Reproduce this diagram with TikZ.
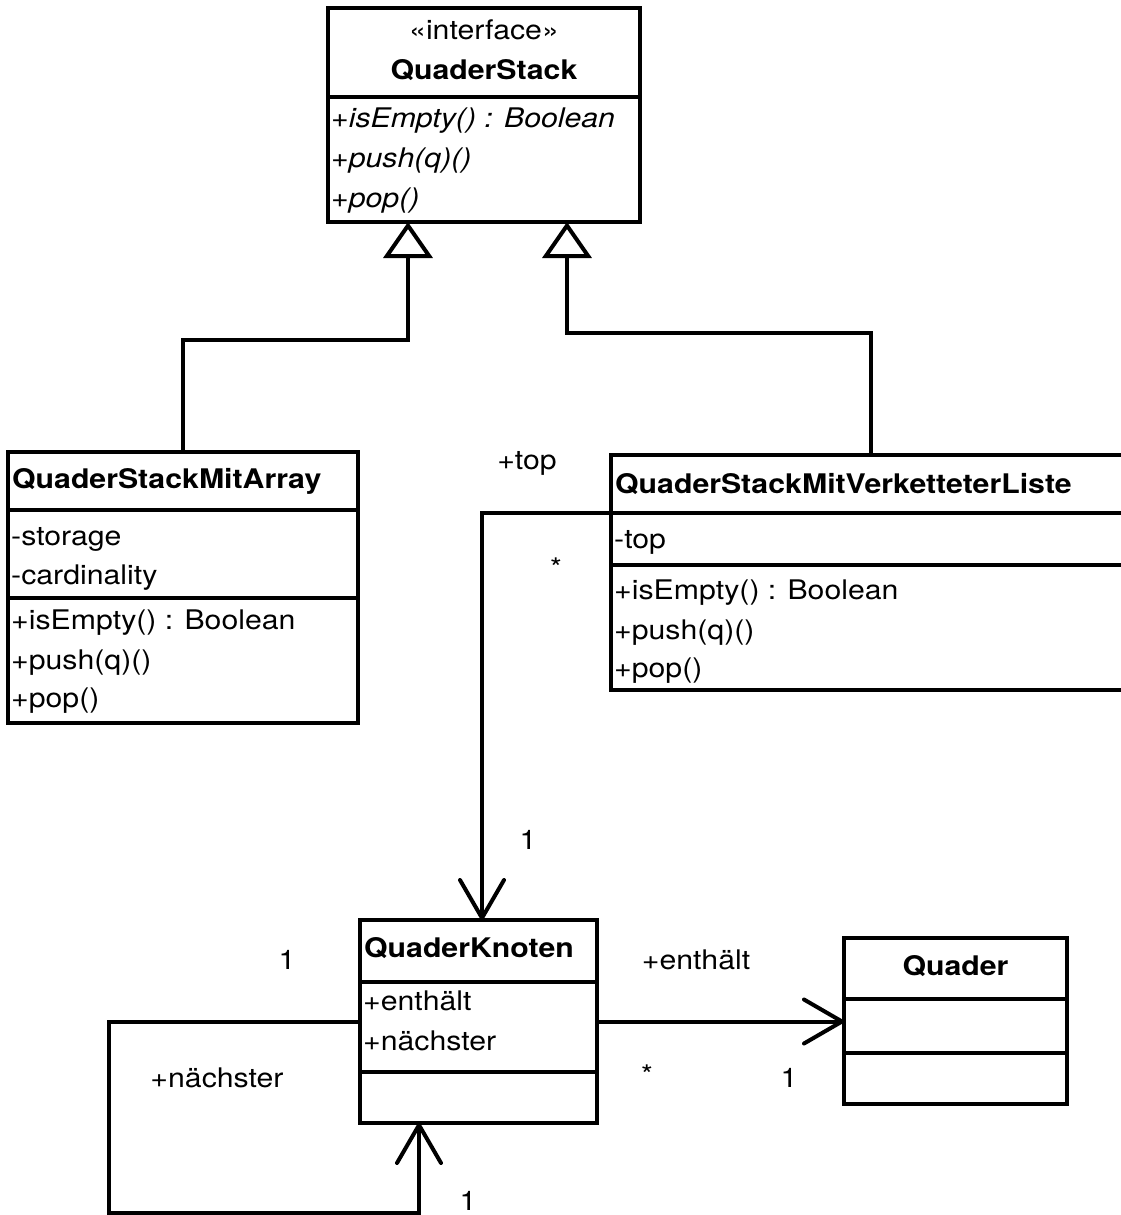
\documentclass[tikz,border=0pt]{standalone}
\usepackage{fontspec}
\setmainfont{TeX Gyre Heros}[FakeStretch=1.12]
\usetikzlibrary{arrows.meta,calc}
\begin{document}
\begin{tikzpicture}[x=1pt,y=-1pt,
  box/.style={draw, line width=4pt, rectangle, inner sep=0pt, outer sep=0pt},
  sepline/.style={line width=4pt},
  txt/.style={inner sep=0pt, font=\fontsize{27pt}{31pt}\selectfont, text height=19pt, text depth=5pt},
  lt/.style={txt, anchor=west},
  bt/.style={font=\fontsize{27pt}{31pt}\selectfont\bfseries},
  gen/.style={line width=4pt, -{Triangle[open, length=36pt, width=49pt]}},
  assoc/.style={line width=4pt, -{Straight Barb[length=38pt, width=44pt, round]}},
]
\fill[white] (0,0) rectangle (1121,1215);
\useasboundingbox (0,0) rectangle (1121,1215);

% QuaderStack (interface)
\node[box, minimum width=312pt, minimum height=214pt] (qs) at (484,115) {};
\draw[sepline] ($(qs.north west)+(0,89)$) -- ($(qs.north east)+(0,89)$);
\node[txt] (qsst) at (484,33) {«interface»};
\node[txt, bt] (qsname) at (484,72) {QuaderStack};
\node[lt] (qsm1) at (331,120) {\itshape +isEmpty() : Boolean};
\node[lt] (qsm2) at (331,160) {\itshape +push(q)()};
\node[lt] (qsm3) at (331,200) {\itshape +pop()};

% QuaderStackMitArray
\node[box, minimum width=350pt, minimum height=271pt] (qsma) at (183,587.5) {};
\draw[sepline] ($(qsma.north west)+(0,58)$) -- ($(qsma.north east)+(0,58)$);
\draw[sepline] ($(qsma.north west)+(0,146)$) -- ($(qsma.north east)+(0,146)$);
\node[lt, bt] (qsmaname) at (12,481) {QuaderStackMitArray};
\node[lt] (qsmaa1) at (11,538) {-storage};
\node[lt] (qsmaa2) at (11,577) {-cardinality};
\node[lt] (qsmam1) at (11,622) {+isEmpty() : Boolean};
\node[lt] (qsmam2) at (11,662) {+push(q)()};
\node[lt] (qsmam3) at (11,700) {+pop()};

% QuaderStackMitVerketteterListe
\node[box, minimum width=519pt, minimum height=235pt] (qsmvl) at (870.5,572.5) {};
\draw[sepline] ($(qsmvl.north west)+(0,58)$) -- ($(qsmvl.north east)+(0,58)$);
\draw[sepline] ($(qsmvl.north west)+(0,110)$) -- ($(qsmvl.north east)+(0,110)$);
\node[lt, bt] (qsmvlname) at (615,486) {QuaderStackMitVerketteterListe};
\node[lt] (qsmvla1) at (614,541) {-top};
\node[lt] (qsmvlm1) at (614,592) {+isEmpty() : Boolean};
\node[lt] (qsmvlm2) at (614,632) {+push(q)()};
\node[lt] (qsmvlm3) at (614,670) {+pop()};

% QuaderKnoten
\node[box, minimum width=237pt, minimum height=203pt] (qk) at (478.5,1021.5) {};
\draw[sepline] ($(qk.north west)+(0,62)$) -- ($(qk.north east)+(0,62)$);
\draw[sepline] ($(qk.north west)+(0,152)$) -- ($(qk.north east)+(0,152)$);
\node[lt, bt] (qkname) at (364,950) {QuaderKnoten};
\node[lt] (qka1) at (363,1003) {+enthält};
\node[lt] (qka2) at (363,1043) {+nächster};

% Quader
\node[box, minimum width=223pt, minimum height=166pt] (quader) at (955.5,1021) {};
\draw[sepline] ($(quader.north west)+(0,61)$) -- ($(quader.north east)+(0,61)$);
\draw[sepline] ($(quader.north west)+(0,115)$) -- ($(quader.north east)+(0,115)$);
\node[txt, bt] (quadername) at (955.5,968) {Quader};

% Generalizations
\draw[gen] (qsma.north) |- ($(qs.south)+(-76,118)$) -- ($(qs.south)+(-76,0)$);
\draw[gen] (qsmvl.north) |- ($(qs.south)+(83,111)$) -- ($(qs.south)+(83,0)$);

% Associations
\draw[assoc] ($(qsmvl.north west)+(0,58)$) -| ($(qk.north)+(3.5,0)$);
\draw[assoc] (qk.east) -- (quader.west |- qk.east);
\draw[assoc] (qk.west) -- ++(-251,0) |- ($(qk.south west)+(59,90)$) -- ($(qk.south west)+(59,0)$);

% Association labels
\node[txt] (ltop) at (527,462) {+top};
\node[txt] (lstar1) at (556,570) {*};
\node[txt] (lone1) at (528,842) {1};
\node[txt] (lone2) at (287,962) {1};
\node[txt] (lnaech) at (217,1080) {+nächster};
\node[txt] (lone3) at (468,1203) {1};
\node[txt] (lenth) at (696,962) {+enthält};
\node[txt] (lstar2) at (647,1077) {*};
\node[txt] (lone4) at (789,1080) {1};
\end{tikzpicture}
\end{document}
